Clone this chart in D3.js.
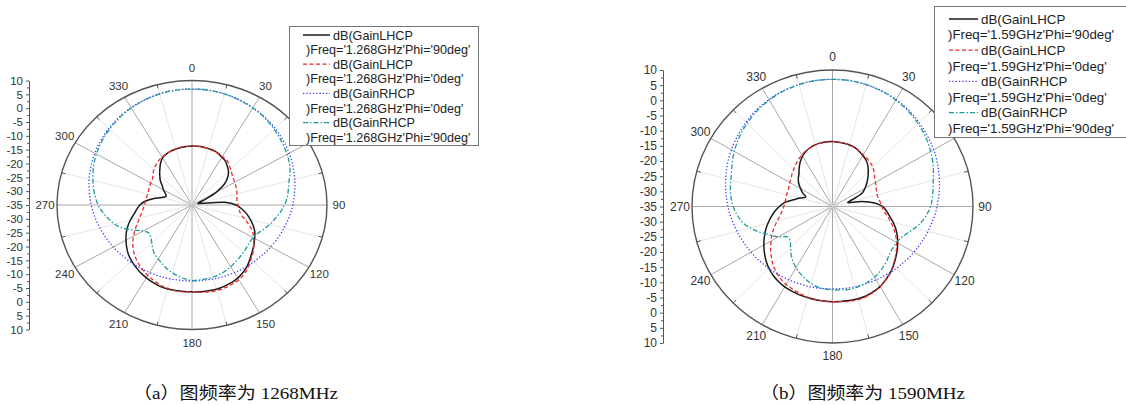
<!DOCTYPE html>
<html>
<head>
<meta charset="utf-8">
<script src="https://cdn.jsdelivr.net/npm/d3@7"></script>
<style>
  body { margin: 0; background: #fff; }
  svg { display: block; font-family: "Liberation Sans", Arial, sans-serif; }
</style>
</head>
<body>
<svg id="chart" width="1126" height="405"></svg>
<script>
// angle (deg, clockwise from top) shared by every trace
const theta = [0, 5, 10, 15, 20, 25, 30, 35, 40, 45, 50, 55,
  60, 65, 70, 75, 80, 85, 90, 95, 100, 105, 110, 115,
  120, 125, 130, 135, 140, 145, 150, 155, 160, 165, 170, 175,
  180, 185, 190, 195, 200, 205, 210, 215, 220, 225, 230, 235,
  240, 245, 250, 255, 260, 265, 270, 275, 280, 285, 290, 295,
  300, 305, 310, 315, 320, 325, 330, 335, 340, 345, 350, 355];

// (a) 1268 MHz, gain in dB
const lhcp90_1268 = [-13.7, -13.7, -13.7, -13.9, -14.0, -14.4, -15.1, -15.6, -16.7, -17.8, -19.5, -21.8,
  -25.5, -30.0, -32.5, -33.0, -31.5, -24.0, -20.3, -18.3, -16.5, -14.9, -13.3, -11.9,
  -10.9, -9.8, -8.8, -7.6, -6.3, -5.3, -4.5, -4.0, -3.7, -3.5, -3.5, -3.5,
  -3.6, -3.6, -3.6, -3.6, -3.7, -4.1, -4.6, -5.1, -5.8, -6.5, -7.3, -8.4,
  -9.6, -10.8, -12.2, -13.7, -15.3, -16.5, -17.6, -19.3, -21.8, -24.5, -25.8, -25.2,
  -24.0, -22.9, -21.2, -19.8, -18.3, -16.7, -15.3, -14.7, -14.3, -14.1, -13.9, -13.8];
const lhcp0_1268 = [-13.7, -13.7, -13.8, -14.0, -14.2, -14.5, -14.8, -15.0, -15.8, -16.8, -17.6, -18.2,
  -18.6, -18.9, -19.1, -19.5, -19.8, -19.9, -19.7, -19.3, -18.7, -17.2, -15.0, -12.8,
  -11.3, -9.8, -8.4, -7.2, -5.8, -4.6, -3.8, -3.4, -3.1, -3.0, -3.1, -3.3,
  -3.6, -3.5, -3.5, -3.8, -4.2, -4.9, -5.5, -6.4, -7.3, -8.3, -9.5, -10.9,
  -12.5, -14.1, -15.6, -16.9, -17.9, -18.6, -19.2, -19.4, -19.6, -19.7, -19.6, -19.4,
  -19.1, -18.9, -18.0, -17.0, -16.2, -15.5, -15.0, -14.6, -14.3, -14.0, -13.8, -13.7];
const rhcp0_1268 = [6.9, 6.9, 6.8, 6.6, 6.3, 6.0, 5.6, 5.2, 4.7, 4.2, 3.6, 3.0,
  2.4, 1.8, 1.1, 0.5, -0.2, -0.8, -1.4, -2.0, -2.6, -3.2, -3.7, -4.2,
  -4.7, -5.1, -5.6, -5.9, -6.3, -6.5, -6.8, -7.0, -7.2, -7.3, -7.5, -7.5,
  -7.5, -7.5, -7.5, -7.3, -7.2, -7.0, -6.8, -6.5, -6.3, -5.9, -5.6, -5.1,
  -4.7, -4.2, -3.7, -3.2, -2.6, -2.0, -1.4, -0.8, -0.2, 0.5, 1.1, 1.8,
  2.4, 3.0, 3.6, 4.2, 4.7, 5.2, 5.6, 6.0, 6.3, 6.6, 6.8, 6.9];
const rhcp90_1268 = [6.9, 6.9, 6.8, 6.6, 6.3, 5.9, 5.5, 5.0, 4.4, 3.7, 3.0, 2.3,
  1.6, 0.8, -0.2, -1.5, -2.4, -3.1, -4.2, -5.4, -6.8, -8.1, -9.5, -10.8,
  -11.5, -11.5, -11.2, -10.8, -10.3, -9.8, -9.2, -8.7, -8.3, -8.0, -7.9, -7.8,
  -7.7, -8.2, -8.9, -9.7, -10.5, -11.6, -12.5, -13.3, -14.6, -16.0, -17.0, -17.4,
  -16.2, -13.6, -10.5, -8.2, -6.7, -5.1, -3.7, -2.7, -1.7, -0.8, 0.1, 1.0,
  1.8, 2.5, 3.2, 3.8, 4.4, 5.0, 5.5, 5.9, 6.3, 6.6, 6.8, 6.9];

// (b) 1590 MHz, gain in dB
const lhcp90_1590 = [-13.6, -13.7, -13.8, -14.0, -14.3, -14.9, -15.6, -16.3, -17.4, -18.8, -20.2, -21.6,
  -23.0, -24.5, -28.0, -30.0, -25.5, -21.5, -18.9, -17.6, -16.4, -14.9, -13.4, -12.1,
  -10.9, -9.7, -8.6, -7.4, -6.3, -5.4, -4.5, -4.0, -3.6, -3.5, -3.5, -3.6,
  -3.6, -3.7, -3.8, -3.9, -4.0, -4.2, -4.4, -4.8, -5.4, -6.2, -7.2, -8.4,
  -9.6, -10.9, -12.2, -13.6, -15.0, -16.4, -18.0, -19.7, -22.3, -24.2, -25.9, -24.5,
  -23.2, -21.8, -20.7, -19.8, -18.4, -17.0, -15.8, -14.9, -14.3, -13.9, -13.7, -13.6];
const lhcp0_1590 = [-13.6, -13.7, -13.8, -14.0, -14.3, -14.8, -15.3, -15.7, -16.2, -16.7, -17.6, -18.5,
  -19.1, -19.6, -20.0, -20.2, -20.0, -19.6, -19.2, -18.5, -17.2, -15.8, -14.2, -12.7,
  -11.3, -10.0, -8.8, -7.6, -6.3, -5.3, -4.5, -3.8, -3.4, -3.2, -3.3, -3.5,
  -3.6, -3.7, -3.9, -4.1, -4.5, -4.9, -5.3, -6.0, -6.9, -8.0, -9.4, -10.8,
  -12.3, -13.7, -15.2, -16.7, -18.0, -18.8, -19.4, -19.7, -19.8, -19.8, -19.8, -19.6,
  -19.2, -18.8, -18.1, -17.5, -16.8, -16.1, -15.3, -14.8, -14.4, -14.0, -13.8, -13.7];
const rhcp0_1590 = [6.9, 6.9, 6.8, 6.6, 6.4, 6.1, 5.7, 5.3, 4.8, 4.2, 3.6, 3.0,
  2.4, 1.8, 1.1, 0.4, -0.2, -0.9, -1.5, -2.1, -2.8, -3.3, -3.9, -4.4,
  -4.9, -5.3, -5.8, -6.1, -6.5, -6.8, -7.1, -7.3, -7.5, -7.6, -7.7, -7.8,
  -7.8, -7.8, -7.7, -7.6, -7.5, -7.3, -7.1, -6.8, -6.5, -6.1, -5.8, -5.3,
  -4.9, -4.4, -3.9, -3.3, -2.8, -2.1, -1.5, -0.9, -0.2, 0.4, 1.1, 1.8,
  2.4, 3.0, 3.6, 4.2, 4.8, 5.3, 5.7, 6.1, 6.4, 6.6, 6.8, 6.9];
const rhcp90_1590 = [6.9, 6.9, 6.8, 6.6, 6.3, 6.0, 5.5, 5.0, 4.4, 3.7, 3.0, 2.2,
  1.3, 0.4, -0.6, -1.6, -2.3, -2.9, -3.6, -4.7, -6.0, -7.7, -9.4, -10.7,
  -11.3, -11.3, -11.0, -10.2, -9.4, -8.7, -8.1, -7.7, -7.4, -7.2, -7.2, -7.4,
  -7.5, -7.7, -8.0, -8.7, -9.6, -10.6, -11.7, -12.9, -14.4, -16.0, -17.3, -17.5,
  -15.0, -12.8, -10.2, -7.7, -5.6, -4.3, -3.2, -2.4, -1.8, -1.3, -0.6, 0.4,
  1.3, 2.2, 3.0, 3.7, 4.4, 5.0, 5.5, 6.0, 6.3, 6.6, 6.8, 6.9];

const angleLabels = [0, 30, 60, 90, 120, 150, 180, 210, 240, 270, 300, 330];
const radialTicks = [10, 5, 0, -5, -10, -15, -20, -25, -30, -35];
const seriesNames = ["dB(GainLHCP", "dB(GainLHCP", "dB(GainRHCP", "dB(GainRHCP"];
const seriesPhi = ["90deg", "0deg", "0deg", "90deg"];
const captions = ["（a）图频率为 1268MHz", "（b）图频率为 1590MHz"];
const freqs = ["1.268GHz", "1.59GHz"];

const styles = [
  { color: "#1a1a1a", width: 1.5, dash: null },
  { color: "#ee2b2b", width: 1.3, dash: "4,2.5" },
  { color: "#3b3bff", width: 1.3, dash: "1.3,2" },
  { color: "#1f9b9b", width: 1.3, dash: "5,2,1.5,2" }
];

const panels = [
  { cx: 192, cy: 205, rx: 135, ry: 124.5, axisX: 29, font: 11.5,
    legend: { x: 289, y: 26, w: 189, h: 119, row: 14.6, first: 35, font: 12.6, lx0: 303, lx1: 330, tx: 333, fx: 306 },
    capX: 133, capW: 205,
    data: [lhcp90_1268, lhcp0_1268, rhcp0_1268, rhcp90_1268] },
  { cx: 832.5, cy: 206.5, rx: 140.5, ry: 136.5, axisX: 663, font: 12,
    legend: { x: 934, y: 6, w: 200, h: 131, row: 15.6, first: 19, font: 13.3, lx0: 949, lx1: 978, tx: 981, fx: 948 },
    capX: 760, capW: 205,
    data: [lhcp90_1590, lhcp0_1590, rhcp0_1590, rhcp90_1590] }
];

const svg = d3.select("#chart");
const rho = d3.scaleLinear().domain([-35, 10]).range([0, 1]);

function drawPanel(p, k) {
  const g = svg.append("g");
  const rad = d => d * Math.PI / 180;
  const pos = (deg, r) => [p.cx + p.rx * r * Math.sin(rad(deg)), p.cy - p.ry * r * Math.cos(rad(deg))];
  const L = p.legend;

  // faint spokes every 15 deg, stronger every 30 deg
  const spokes = d3.range(0, 360, 15);
  g.selectAll(".spoke").data(spokes).enter().append("line")
    .attr("x1", p.cx).attr("y1", p.cy)
    .attr("x2", d => pos(d, 1)[0]).attr("y2", d => pos(d, 1)[1])
    .attr("stroke", d => d % 30 === 0 ? "#a8a8a8" : "#e6e6e6")
    .attr("stroke-width", 1);

  // outer ring + minor ticks
  g.append("ellipse")
    .attr("cx", p.cx).attr("cy", p.cy).attr("rx", p.rx).attr("ry", p.ry)
    .attr("fill", "none").attr("stroke", "#555").attr("stroke-width", 1.4);
  g.selectAll(".mtick").data(spokes.filter(d => d % 30 !== 0)).enter().append("line")
    .attr("x1", d => pos(d, 1)[0]).attr("y1", d => pos(d, 1)[1])
    .attr("x2", d => pos(d, 0.97)[0]).attr("y2", d => pos(d, 0.97)[1])
    .attr("stroke", "#555").attr("stroke-width", 1);

  // angle labels (the ones under the legend box are covered, as in the source)
  const labXY = d => [p.cx + (p.rx + 12) * Math.sin(rad(d)), p.cy - (p.ry + 13) * Math.cos(rad(d))];
  const visible = angleLabels.filter(d => {
    const [x, y] = labXY(d);
    return !(x > L.x - 8 && x < L.x + L.w && y > L.y && y < L.y + L.h + 6);
  });
  g.selectAll(".alab").data(visible).enter().append("text")
    .attr("x", d => labXY(d)[0])
    .attr("y", d => labXY(d)[1])
    .attr("dy", "0.35em")
    .attr("text-anchor", "middle")
    .attr("font-size", p.font)
    .attr("fill", "#333")
    .text(d => d);

  // radial axis: -35 at centre, 10 at both ends
  const yUp = d3.scaleLinear().domain([-35, 10]).range([p.cy, p.cy - p.ry]);
  const yDown = d3.scaleLinear().domain([-35, 10]).range([p.cy, p.cy + p.ry]);
  const minor = d3.range(-32.5, 10, 5);
  [yUp, yDown].forEach((sc, i) => {
    const ax = g.append("g").attr("transform", `translate(${p.axisX},0)`)
      .call(d3.axisLeft(sc)
        .tickValues(i === 0 ? radialTicks : radialTicks.filter(d => d !== -35))
        .tickSize(3).tickSizeOuter(0).tickPadding(3)
        .tickFormat(d => String(d)));
    ax.select(".domain").attr("stroke", "#555");
    ax.selectAll(".tick line").attr("stroke", "#555");
    ax.selectAll("text").attr("font-size", p.font).attr("fill", "#333")
      .attr("font-family", "'Liberation Sans', Arial, sans-serif");
    const mx = g.append("g").attr("transform", `translate(${p.axisX},0)`)
      .call(d3.axisLeft(sc).tickValues(minor).tickSize(2).tickSizeOuter(0).tickFormat(""));
    mx.select(".domain").remove();
    mx.selectAll(".tick line").attr("stroke", "#555");
  });

  // traces
  const line = d3.line().curve(d3.curveCatmullRomClosed.alpha(0.5));
  p.data.forEach((vals, i) => {
    const pts = theta.map((t, j) => pos(t, rho(vals[j])));
    const s = styles[i];
    g.append("path").attr("d", line(pts))
      .attr("fill", "none").attr("stroke", s.color)
      .attr("stroke-width", s.width)
      .attr("stroke-dasharray", s.dash);
  });

  // legend
  const lg = svg.append("g");
  lg.append("rect").attr("x", L.x + 0.5).attr("y", L.y + 0.5).attr("width", L.w).attr("height", L.h)
    .attr("fill", "#fff").attr("stroke", "#777").attr("stroke-width", 1);
  seriesNames.forEach((name, i) => {
    const y1 = L.first + L.row * 2 * i;
    const s = styles[i];
    lg.append("line").attr("x1", L.lx0).attr("x2", L.lx1).attr("y1", y1).attr("y2", y1)
      .attr("stroke", s.color).attr("stroke-width", s.width).attr("stroke-dasharray", s.dash);
    lg.append("text").attr("x", L.tx).attr("y", y1).attr("dy", "0.36em")
      .attr("font-size", L.font).attr("fill", "#222").text(name);
    lg.append("text").attr("x", L.fx).attr("y", y1 + L.row).attr("dy", "0.36em")
      .attr("font-size", L.font).attr("fill", "#222")
      .text(`)Freq='${freqs[k]}'Phi='${seriesPhi[i]}'`);
  });

  // caption
  svg.append("text")
    .attr("x", p.capX).attr("y", 399)
    .attr("font-size", 17)
    .attr("font-family", "'Liberation Serif', 'Noto Sans CJK SC', serif")
    .attr("fill", "#111")
    .attr("textLength", p.capW).attr("lengthAdjust", "spacingAndGlyphs")
    .text(captions[k]);
}

panels.forEach(drawPanel);
</script>
</body>
</html>
